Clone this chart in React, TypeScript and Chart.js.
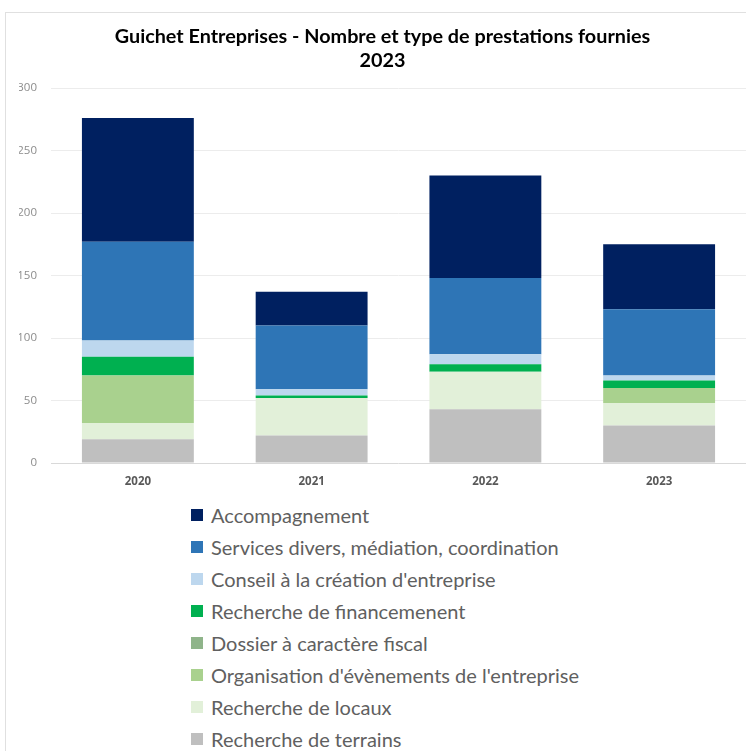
import React, { useEffect, useRef } from "react";
import { Chart, registerables } from "chart.js";

Chart.register(...registerables);

const categories = ["2020", "2021", "2022", "2023"];
const titleLines = ["Guichet Entreprises - Nombre et type de prestations fournies", "2023"];
const yTicks = [0, 50, 100, 150, 200, 250, 300];

// Series, top-of-legend first (stacked top-most)
const accompagnement = [99, 27, 82, 52];
const services = [79, 51, 61, 53];
const conseil = [13, 5, 8, 4];
const financement = [15, 2, 6, 6];
const dossierFiscal = [0, 0, 0, 0];
const organisation = [38, 0, 0, 12];
const locaux = [13, 30, 30, 18];
const terrains = [19, 22, 43, 30];

const seriesNames = [
  "Accompagnement",
  "Services divers, médiation, coordination",
  "Conseil à la création d'entreprise",
  "Recherche de financemenent",
  "Dossier à caractère fiscal",
  "Organisation d'évènements de l'entreprise",
  "Recherche de locaux",
  "Recherche de terrains",
];
const seriesValues = [accompagnement, services, conseil, financement, dossierFiscal, organisation, locaux, terrains];
const seriesColors = ["#002060", "#2e75b6", "#bdd7ee", "#00b050", "#8fb48a", "#a9d18e", "#e2f0d9", "#bfbfbf"];

const FONT = "'Open Sans', 'DejaVu Sans', sans-serif";
const FONT2 = "Lato, 'Open Sans', sans-serif";

export default function App() {
  const canvasRef = useRef<HTMLCanvasElement | null>(null);

  useEffect(() => {
    if (!canvasRef.current) return;
    // stack from bottom: reverse legend order
    const datasets = seriesNames
      .map((name, i) => ({
        label: name,
        data: seriesValues[i],
        backgroundColor: seriesColors[i],
        borderWidth: 0,
        barPercentage: 0.644,
        categoryPercentage: 1,
      }))
      .reverse();

    const chart = new Chart(canvasRef.current, {
      type: "bar",
      data: { labels: categories, datasets },
      options: {
        animation: false,
        responsive: false,
        maintainAspectRatio: false,
        layout: { padding: { top: 12, left: 19, right: 0, bottom: 0 } },
        plugins: {
          legend: { display: false },
          tooltip: { enabled: false },
          title: {
            display: true,
            text: titleLines,
            color: "#000000",
            font: { family: FONT2, size: 19.8, weight: "bold", lineHeight: 1.2 },
            padding: { top: 13, bottom: 15.5 },
          },
        },
        scales: {
          x: {
            stacked: true,
            grid: { display: false, drawTicks: false },
            border: { display: false },
            ticks: {
              color: "#595959",
              font: { family: FONT, size: 11.5, weight: "bold" },
              padding: 12,
            },
            afterFit: (scale: any) => {
              scale.height = 32;
            },
          },
          y: {
            stacked: true,
            min: 0,
            max: 300,
            afterBuildTicks: (scale: any) => {
              scale.ticks = yTicks.map((v) => ({ value: v }));
            },
            grid: {
              color: (ctx: any) => (ctx.tick && ctx.tick.value === 0 ? "#d9d9d9" : "#ececec"),
              drawTicks: false,
              lineWidth: 1,
            },
            border: { display: false },
            ticks: {
              color: "#8c8c8c",
              font: { family: FONT, size: 11.5 },
              padding: 14,
            },
            afterFit: (scale: any) => {
              scale.width = 32;
            },
          },
        },
      },
    });
    return () => chart.destroy();
  }, []);

  const legendTop = 514.5;
  const legendStep = 32.1;

  return (
    <div style={{ position: "absolute", left: 0, top: 0, width: 746, height: 751, background: "#ffffff", overflow: "hidden" }}>
      <div
        style={{
          position: "absolute",
          left: 5,
          top: 12,
          width: 760,
          height: 760,
          border: "1px solid #e0e0e0",
          boxSizing: "border-box",
        }}
      />
      <canvas ref={canvasRef} width={746} height={495} style={{ position: "absolute", left: 0, top: 0, width: 746, height: 495 }} />
      {seriesNames.map((name, i) => (
        <div
          key={name}
          style={{
            position: "absolute",
            left: 191,
            top: legendTop + i * legendStep - 13,
            height: 26,
            display: "flex",
            alignItems: "center",
            fontFamily: FONT2,
            fontSize: 20,
            color: "#606060",
            whiteSpace: "nowrap",
          }}
        >
          <span style={{ display: "inline-block", width: 12, height: 12, background: seriesColors[i], marginRight: 8 }} />
          <span>{name}</span>
        </div>
      ))}
    </div>
  );
}
